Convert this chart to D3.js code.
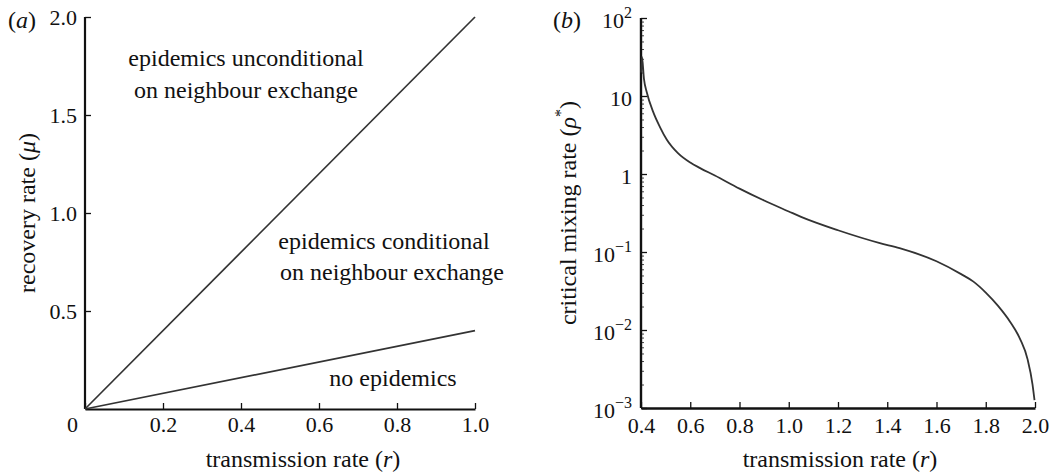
<!DOCTYPE html>
<html>
<head>
<meta charset="utf-8">
<script src="https://cdn.jsdelivr.net/npm/d3@7"></script>
<style>
  body { margin: 0; background: #fff; }
  svg text { font-family: "Liberation Serif", "Times New Roman", serif; fill: #111; }
</style>
</head>
<body>
<div id="chart"></div>
<script>
// panel (a): threshold lines
const rA = [0, 1.0];
const muUpper = [0, 2.0];
const muLower = [0, 0.4];
const xTicksA = [0, 0.2, 0.4, 0.6, 0.8, 1.0];
const yTicksA = [0.5, 1.0, 1.5, 2.0];

// panel (b): critical mixing rate curve
const rB = [0.401, 0.404, 0.412, 0.424, 0.449, 0.477, 0.505, 0.55, 0.6, 0.64, 0.7, 0.8, 0.9,
  1.0, 1.05, 1.2, 1.37, 1.45, 1.6, 1.7, 1.75, 1.8, 1.85, 1.9, 1.94, 1.97, 1.99, 1.998];
const rhoB = [20, 31.6, 16.6, 11, 6.3, 4.0, 2.75, 1.85, 1.4, 1.19, 0.955, 0.65, 0.457,
  0.331, 0.282, 0.19, 0.13, 0.112, 0.076, 0.052, 0.0417, 0.0302, 0.0204, 0.0126, 0.0076,
  0.0042, 0.0020, 0.00126];
const xTicksB = [0.4, 0.6, 0.8, 1.0, 1.2, 1.4, 1.6, 1.8, 2.0];
const yTicksB = [1e-3, 1e-2, 1e-1, 1, 10, 100];

const W = 1051, H = 474;
const fsTick = 22, fs = 24;

const svg = d3.select('#chart').append('svg')
  .attr('width', W).attr('height', H);

// ---------- panel (a)
const xA = d3.scaleLinear().domain([0, 1]).range([85, 475]);
const yA = d3.scaleLinear().domain([0, 2]).range([409, 17]);

const gA = svg.append('g');

gA.append('g')
  .attr('transform', `translate(0,${yA(0)})`)
  .call(d3.axisBottom(xA).tickValues(xTicksA).tickSizeInner(-6).tickSizeOuter(0)
    .tickFormat(d => d === 0 ? '0' : d3.format('.1f')(d)))
  .call(g => {
    g.select('.domain').attr('stroke', '#111').attr('stroke-width', 2.2);
    g.selectAll('.tick line').attr('stroke', '#111').attr('stroke-width', 1.3);
    g.selectAll('.tick text').attr('font-size', fsTick).attr('y', 7).attr('dy', '0.71em')
      .attr('font-family', null)
      .attr('dx', d => d === 0 ? -13 : 0);
  });

gA.append('g')
  .attr('transform', `translate(${xA(0)},0)`)
  .call(d3.axisLeft(yA).tickValues(yTicksA).tickSizeInner(-6).tickSizeOuter(0)
    .tickFormat(d3.format('.1f')))
  .call(g => {
    g.select('.domain').attr('stroke', '#111').attr('stroke-width', 2.2)
      .attr('d', `M0,${yA(0)}V${yA(2)}`);
    g.selectAll('.tick line').attr('stroke', '#111').attr('stroke-width', 1.3);
    g.selectAll('.tick text').attr('font-size', fsTick).attr('x', -8).attr('dy', '0.36em')
      .attr('font-family', null);
  });

const lineA = d3.line().x(d => xA(d[0])).y(d => yA(d[1]));
[muUpper, muLower].forEach(mu => {
  gA.append('path')
    .datum(rA.map((r, i) => [r, mu[i]]))
    .attr('d', lineA)
    .attr('fill', 'none')
    .attr('stroke', '#333')
    .attr('stroke-width', 1.7);
});

const notes = [
  {t: 'epidemics unconditional', x: 246, y: 66},
  {t: 'on neighbour exchange', x: 246, y: 98},
  {t: 'epidemics conditional', x: 384, y: 249},
  {t: 'on neighbour exchange', x: 392, y: 280},
  {t: 'no epidemics', x: 393, y: 386}
];
gA.selectAll('text.note').data(notes).join('text')
  .attr('class', 'note')
  .attr('x', d => d.x).attr('y', d => d.y)
  .attr('text-anchor', 'middle')
  .attr('font-size', fs)
  .text(d => d.t);

gA.append('text').attr('x', 8).attr('y', 28).attr('font-size', fs)
  .html('(<tspan font-style="italic">a</tspan>)');

gA.append('text')
  .attr('transform', `translate(35,${(yA(0) + yA(2)) / 2}) rotate(-90)`)
  .attr('text-anchor', 'middle').attr('font-size', fs)
  .html('recovery rate (<tspan font-style="italic">μ</tspan>)');

gA.append('text')
  .attr('x', 303).attr('y', 467)
  .attr('text-anchor', 'middle').attr('font-size', fs)
  .html('transmission rate (<tspan font-style="italic">r</tspan>)');

// ---------- panel (b)
const xB = d3.scaleLinear().domain([0.4, 2.0]).range([641, 1035]);
const yB = d3.scaleLog().domain([1e-3, 1e2]).range([408, 18]);

const gB = svg.append('g');

gB.append('g')
  .attr('transform', `translate(0,${yB(1e-3)})`)
  .call(d3.axisBottom(xB).tickValues(xTicksB).tickSizeInner(-6).tickSizeOuter(0)
    .tickFormat(d3.format('.1f')))
  .call(g => {
    g.select('.domain').attr('stroke', '#111').attr('stroke-width', 2.4);
    g.selectAll('.tick line').attr('stroke', '#111').attr('stroke-width', 1.3);
    g.selectAll('.tick text').attr('font-size', fsTick).attr('y', 9).attr('dy', '0.71em')
      .attr('font-family', null);
  });

// minor log ticks
const minor = [];
for (let e = -3; e < 2; e++) for (let k = 2; k <= 9; k++) minor.push(k * Math.pow(10, e));

gB.append('g').attr('transform', `translate(${xB(0.4)},0)`)
  .call(d3.axisLeft(yB).tickValues(minor).tickSizeInner(-3).tickSizeOuter(0).tickFormat(''))
  .call(g => {
    g.select('.domain').remove();
    g.selectAll('.tick line').attr('stroke', '#444').attr('stroke-width', 1);
  });
const yMajor = gB.append('g').attr('transform', `translate(${xB(0.4)},0)`);
yMajor.call(d3.axisLeft(yB).tickValues(yTicksB).tickSizeInner(-6).tickSizeOuter(0).tickFormat(''))
  .call(g => {
    g.select('.domain').attr('stroke', '#111').attr('stroke-width', 2.4)
      .attr('d', `M0,${yB(1e-3)}V${yB(1e2)}`);
    g.selectAll('.tick line').attr('stroke', '#111').attr('stroke-width', 1.3);
  });
yMajor.selectAll('.tick').append('text')
  .attr('x', -9).attr('dy', '0.45em')
  .attr('text-anchor', 'end').attr('font-size', fsTick).attr('fill', '#111')
  .html(d => {
    const e = Math.round(Math.log10(d));
    if (e === 0) return '1';
    if (e === 1) return '10';
    const ex = e < 0 ? '−' + (-e) : String(e);
    return `10<tspan dy="-10" font-size="16">${ex}</tspan>`;
  });

const lineB = d3.line().x(d => xB(d[0])).y(d => yB(d[1])).curve(d3.curveMonotoneX);
gB.append('path')
  .datum(rB.map((r, i) => [r, rhoB[i]]))
  .attr('d', lineB)
  .attr('fill', 'none')
  .attr('stroke', '#333')
  .attr('stroke-width', 1.8);

gB.append('text').attr('x', 553).attr('y', 28).attr('font-size', fs)
  .html('(<tspan font-style="italic">b</tspan>)');

gB.append('text')
  .attr('transform', `translate(576,${(yB(1e-3) + yB(1e2)) / 2}) rotate(-90)`)
  .attr('text-anchor', 'middle').attr('font-size', fs)
  .html('critical mixing rate (<tspan font-style="italic">ρ</tspan><tspan dy="-10" font-size="16">*</tspan><tspan dy="10">)</tspan>');

gB.append('text')
  .attr('x', 840).attr('y', 467)
  .attr('text-anchor', 'middle').attr('font-size', fs)
  .html('transmission rate (<tspan font-style="italic">r</tspan>)');
</script>
</body>
</html>
